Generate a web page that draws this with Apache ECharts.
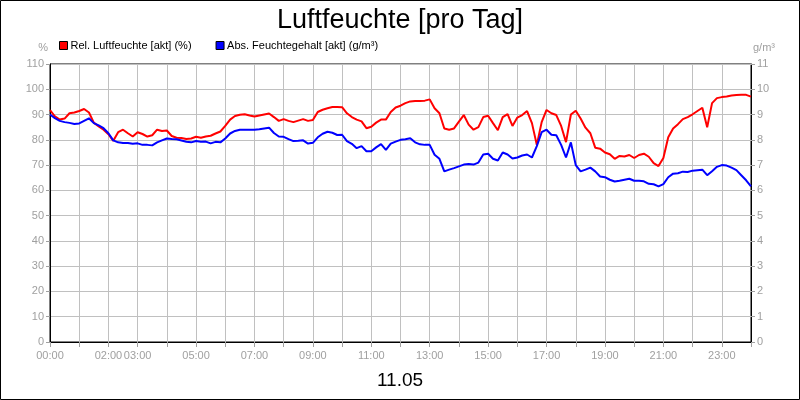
<!DOCTYPE html>
<html>
  <head>
    <meta charset="utf-8" />
    <script src="https://cdn.jsdelivr.net/npm/echarts@6.0.0/dist/echarts.min.js"></script>
    <style>
      html, body { margin: 0; padding: 0; background: #fff; }
      #main { width: 800px; height: 400px; }
    </style>
  </head>

  <body>
    <div id="main"></div>
    <script type="text/javascript">
      // one reading every 10 minutes, 00:00 .. 24:00
      var relHumidity = [
        91.8, 89.3, 88, 88.4, 90.5, 90.8, 91.4, 92.2, 90.8, 86.8,
        85.3, 84, 82.2, 79.6, 83, 84, 82.6, 81.3, 83, 82.3,
        81.3, 81.8, 84, 83.5, 83.7, 81.5, 80.8, 80.7, 80.3, 80.5,
        81.2, 80.8, 81.3, 81.6, 82.5, 83.3, 85.5, 88, 89.4, 89.9,
        90.1, 89.6, 89.2, 89.6, 90, 90.4, 89, 87.5, 88.2, 87.5,
        87, 87.6, 88.2, 87.5, 87.8, 91, 91.9, 92.5, 93, 93,
        92.9, 90.5, 89, 88, 87.3, 84.6, 85.2, 86.8, 88, 88,
        91, 92.8, 93.5, 94.5, 95.2, 95.4, 95.4, 95.5, 96, 92.5,
        90.5, 84.5, 84, 84.5, 87.2, 89.8, 86, 84, 85, 89,
        89.5, 86.6, 83.8, 89, 90.2, 85.5, 88.8, 89.8, 91.4, 86.6,
        78, 87, 91.8, 90.5, 89.8, 85.5, 79.1, 90, 91.5, 88.4,
        84.8, 82.6, 76.9, 76.5, 75, 74.3, 72.5, 73.6, 73.4, 74,
        72.8, 74, 74.5, 73.3, 70.8, 69.6, 72.8, 81, 84.5, 86.2,
        88.2, 89, 90.1, 91.4, 92.7, 85, 94.5, 96.5, 96.9, 97.1,
        97.5, 97.7, 97.8, 97.8, 97.1
      ];
      var absHumidity = [
        9.0, 8.86, 8.75, 8.7, 8.67, 8.63, 8.65, 8.75, 8.85, 8.66,
        8.57, 8.46, 8.26, 7.98, 7.9, 7.87, 7.87, 7.84, 7.86, 7.8,
        7.8, 7.78, 7.9, 7.98, 8.05, 8.03, 8.02, 7.97, 7.92, 7.9,
        7.95, 7.92, 7.93, 7.86, 7.92, 7.9, 8.05, 8.25, 8.35, 8.4,
        8.4, 8.4, 8.4, 8.42, 8.45, 8.48, 8.27, 8.13, 8.12, 8.03,
        7.95, 7.96, 7.98, 7.85, 7.88, 8.1, 8.24, 8.32, 8.28, 8.19,
        8.2, 7.95, 7.84, 7.67, 7.75, 7.55, 7.55, 7.7, 7.83, 7.6,
        7.85, 7.93, 8.0, 8.02, 8.06, 7.9, 7.82, 7.8, 7.8, 7.41,
        7.25, 6.75, 6.82, 6.88, 6.95, 7.02, 7.04, 7.02, 7.1, 7.42,
        7.45, 7.25, 7.18, 7.5, 7.42, 7.26, 7.3, 7.38, 7.42, 7.3,
        7.75, 8.3, 8.4, 8.2, 8.18, 7.8, 7.3, 7.9, 7.0, 6.75,
        6.82, 6.9, 6.75, 6.55, 6.52, 6.42, 6.35, 6.38, 6.42, 6.46,
        6.38, 6.38, 6.36, 6.26, 6.24, 6.16, 6.25, 6.52, 6.66, 6.68,
        6.74, 6.73, 6.78, 6.8, 6.82, 6.6, 6.76, 6.93, 7.0, 6.98,
        6.9, 6.8, 6.6, 6.4, 6.16
      ];
      var xTickLabels = ['00:00', '02:00', '03:00', '05:00', '07:00', '09:00', '11:00',
                         '13:00', '15:00', '17:00', '19:00', '21:00', '23:00'];
      var seriesNames = ['Rel. Luftfeuchte [akt] (%)', 'Abs. Feuchtegehalt [akt] (g/m³)'];

      var font = 'Liberation Sans, Arial, sans-serif';
      var grey = '#a0a0a0';

      function toPoints(arr) {
        return arr.map(function (v, i) { return [i / 6, v]; });
      }
      function hourLabel(v) {
        var s = (v < 10 ? '0' : '') + v + ':00';
        return xTickLabels.indexOf(s) >= 0 ? s : '';
      }

      var myChart = echarts.init(document.getElementById('main'));

      var option = {
        backgroundColor: '#fff',
        animation: false,
        title: [
          {
            text: 'Luftfeuchte [pro Tag]',
            left: 'center',
            top: 2,
            textStyle: { fontFamily: font, fontSize: 27, fontWeight: 'normal', color: '#000' }
          },
          {
            text: '11.05',
            left: 'center',
            top: 366,
            textStyle: { fontFamily: font, fontSize: 19, fontWeight: 'normal', color: '#000' }
          }
        ],
        legend: {
          left: 59,
          top: 40,
          padding: 0,
          itemWidth: 8,
          itemHeight: 8,
          itemGap: 24,
          icon: 'rect',
          textStyle: { fontFamily: font, fontSize: 11, color: '#000', padding: [0, 0, 0, -2] },
          itemStyle: { borderColor: '#000', borderWidth: 1 },
          data: seriesNames
        },
        grid: {
          left: 50, right: 49, top: 64, bottom: 58,
          show: true, borderColor: '#000', borderWidth: 1
        },
        xAxis: {
          type: 'value',
          min: 0, max: 24, interval: 1,
          axisLine: { lineStyle: { color: '#000', width: 1 } },
          axisTick: { show: true, length: 5, lineStyle: { color: grey } },
          splitLine: { show: true, lineStyle: { color: '#c0c0c0', width: 1 } },
          axisLabel: {
            color: grey, fontFamily: font, fontSize: 11, margin: 8,
            showMinLabel: true, showMaxLabel: true,
            formatter: hourLabel
          }
        },
        yAxis: [
          {
            type: 'value',
            min: 0, max: 110, interval: 10,
            name: '%',
            nameLocation: 'end',
            nameGap: 11,
            nameTextStyle: { color: grey, fontFamily: font, fontSize: 11, align: 'right', padding: [0, 2, 0, 0] },
            axisLine: { show: true, lineStyle: { color: '#000', width: 1 } },
            axisTick: { show: true, length: 4, lineStyle: { color: grey } },
            splitLine: { show: true, lineStyle: { color: '#c0c0c0', width: 1 } },
            axisLabel: { color: grey, fontFamily: font, fontSize: 11, margin: 6 }
          },
          {
            type: 'value',
            min: 0, max: 11, interval: 1,
            name: 'g/m³',
            nameLocation: 'end',
            nameGap: 11,
            nameTextStyle: { color: grey, fontFamily: font, fontSize: 11, align: 'left', padding: [0, 0, 0, 2] },
            axisLine: { show: true, lineStyle: { color: '#000', width: 1 } },
            axisTick: { show: true, length: 4, lineStyle: { color: grey } },
            splitLine: { show: false },
            axisLabel: { color: grey, fontFamily: font, fontSize: 11, margin: 6 }
          }
        ],
        series: [
          {
            name: seriesNames[0],
            type: 'line',
            yAxisIndex: 0,
            showSymbol: false,
            color: '#ff0000',
            lineStyle: { color: '#ff0000', width: 2 },
            data: toPoints(relHumidity)
          },
          {
            name: seriesNames[1],
            type: 'line',
            yAxisIndex: 1,
            showSymbol: false,
            color: '#0000ff',
            lineStyle: { color: '#0000ff', width: 2 },
            data: toPoints(absHumidity)
          }
        ],
        graphic: [
          {
            type: 'rect',
            shape: { x: 0.5, y: 0.5, width: 799, height: 399 },
            style: { fill: null, stroke: '#000', lineWidth: 1 },
            silent: true
          }
        ]
      };

      myChart.setOption(option);
    </script>
  </body>

</html>
